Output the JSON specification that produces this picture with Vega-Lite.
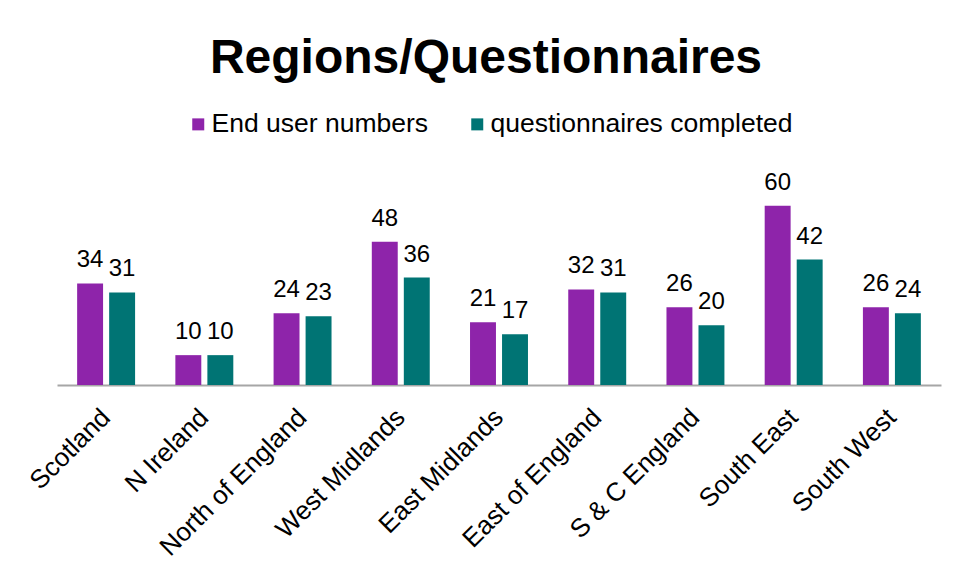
{
  "$schema": "https://vega.github.io/schema/vega-lite/v6.json",
  "width": 884,
  "height": 209,
  "autosize": {"type": "none"},
  "padding": {"left": 57, "top": 176, "right": 15, "bottom": 193},
  "background": "white",
  "title": {
    "text": "Regions/Questionnaires",
    "fontSize": 48,
    "fontWeight": "bold",
    "font": "Liberation Sans",
    "color": "#000000",
    "anchor": "middle",
    "dx": -13,
    "offset": 28
  },
  "config": {
    "view": {"stroke": null},
    "font": "Liberation Sans"
  },
  "data": {
    "values": [
      {"region": "Scotland", "series": "End user numbers", "value": 34},
      {"region": "Scotland", "series": "questionnaires completed", "value": 31},
      {"region": "N Ireland", "series": "End user numbers", "value": 10},
      {"region": "N Ireland", "series": "questionnaires completed", "value": 10},
      {"region": "North of England", "series": "End user numbers", "value": 24},
      {"region": "North of England", "series": "questionnaires completed", "value": 23},
      {"region": "West Midlands", "series": "End user numbers", "value": 48},
      {"region": "West Midlands", "series": "questionnaires completed", "value": 36},
      {"region": "East Midlands", "series": "End user numbers", "value": 21},
      {"region": "East Midlands", "series": "questionnaires completed", "value": 17},
      {"region": "East of England", "series": "End user numbers", "value": 32},
      {"region": "East of England", "series": "questionnaires completed", "value": 31},
      {"region": "S & C England", "series": "End user numbers", "value": 26},
      {"region": "S & C England", "series": "questionnaires completed", "value": 20},
      {"region": "South East", "series": "End user numbers", "value": 60},
      {"region": "South East", "series": "questionnaires completed", "value": 42},
      {"region": "South West", "series": "End user numbers", "value": 26},
      {"region": "South West", "series": "questionnaires completed", "value": 24}
    ]
  },
  "encoding": {
    "x": {
      "field": "region",
      "type": "nominal",
      "sort": null,
      "scale": {"paddingInner": 0.41, "paddingOuter": 0.205},
      "axis": {
        "title": null,
        "labelAngle": -45,
        "labelAlign": "right",
        "labelBaseline": "middle",
        "labelFontSize": 26,
        "labelColor": "#000000",
        "labelPadding": 28,
        "labelOffset": 0,
        "labelLimit": 300,
        "labelOverlap": false,
        "ticks": false,
        "domainColor": "#a6a6a6",
        "domainWidth": 2
      }
    },
    "xOffset": {
      "field": "series",
      "type": "nominal",
      "scale": {"paddingInner": 0.19, "paddingOuter": 0}
    },
    "y": {
      "field": "value",
      "type": "quantitative",
      "scale": {"domain": [0, 70], "nice": false},
      "axis": null
    },
    "color": {
      "field": "series",
      "type": "nominal",
      "scale": {
        "domain": ["End user numbers", "questionnaires completed"],
        "range": ["#8e24aa", "#007474"]
      },
      "legend": {
        "title": null,
        "orient": "none",
        "direction": "horizontal",
        "legendX": 128,
        "legendY": -65,
        "symbolType": "square",
        "symbolSize": 144,
        "symbolStrokeWidth": 0,
        "labelFontSize": 26.5,
        "labelColor": "#000000",
        "labelOffset": 0,
        "columnPadding": 35,
        "labelLimit": 400
      }
    }
  },
  "layer": [
    {"mark": {"type": "bar"}},
    {
      "mark": {"type": "text", "dy": -16, "baseline": "alphabetic", "fontSize": 24, "color": "#000000"},
      "encoding": {
        "text": {"field": "value", "type": "quantitative"},
        "color": {"value": "#000000"}
      }
    }
  ]
}
